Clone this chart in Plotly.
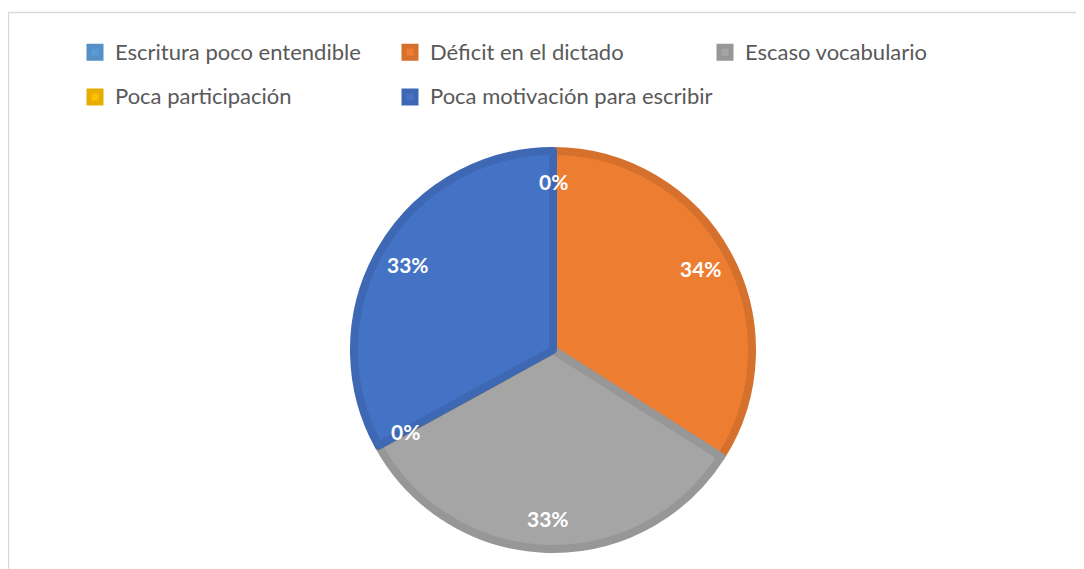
import math
import plotly.graph_objects as go

categories = ["Escritura poco entendible", "Déficit en el dictado", "Escaso vocabulario",
              "Poca participación", "Poca motivación para escribir"]
values = [0, 34, 33, 0, 33]
colors = ["#5B9BD5", "#ED7D31", "#A5A5A5", "#FFC000", "#4472C4"]
border_colors = ["#5590C6", "#D5712C", "#979797", "#E6AE00", "#3F68B4"]

# page has an 8px body margin, so the figure is 8px smaller
W, H = 1076, 561
cx, cy, R = 545, 342, 199       # pie centre / radius in figure pixels
LINE_W = 8
label_r = 0.83 * (R + LINE_W / 2)

legend_labels = ['<span style="font-size:22px;baseline-shift:5px">%s</span>' % c for c in categories]

fig = go.Figure(go.Pie(
    labels=legend_labels,
    values=values,
    sort=False,
    direction="clockwise",
    rotation=0,
    marker=dict(colors=colors, line=dict(color=border_colors, width=LINE_W)),
    textinfo="none",
    hoverinfo="skip",
    domain=dict(x=[(cx - R) / W, (cx + R) / W], y=[1 - (cy + R) / H, 1 - (cy - R) / H]),
    showlegend=True,
))

# percentage labels, placed at each slice's mid-angle (computed from the data)
total = sum(values)
annotations = []
cum = 0
for v in values:
    frac = v / total
    mid = (cum + frac / 2) * 2 * math.pi
    cum += frac
    px = cx + label_r * math.sin(mid)
    py = cy - label_r * math.cos(mid)
    annotations.append(dict(
        x=px / W, y=1 - py / H, xref="paper", yref="paper",
        text="%d%%" % round(frac * 100), showarrow=False,
        xanchor="center", yanchor="middle",
        font=dict(family="Lato", size=21, color="white", weight="bold"),
    ))

fig.update_layout(
    width=W, height=H,
    margin=dict(l=0, r=0, t=0, b=0),
    paper_bgcolor="white",
    plot_bgcolor="white",
    annotations=annotations,
    legend=dict(
        orientation="h",
        x=67 / W, xanchor="left",
        y=1 - 17 / H, yanchor="top",
        entrywidth=270, entrywidthmode="pixels",
        font=dict(family="Lato", size=32, color="#595959"),
        itemclick=False, itemdoubleclick=False,
    ),
    shapes=[dict(type="rect", xref="paper", yref="paper",
                 x0=0.5 / W, x1=1.02, y0=-0.02, y1=1 - 4.5 / H,
                 line=dict(color="#D9D9D9", width=1.5), layer="below")],
)

fig.write_html("out.html")
